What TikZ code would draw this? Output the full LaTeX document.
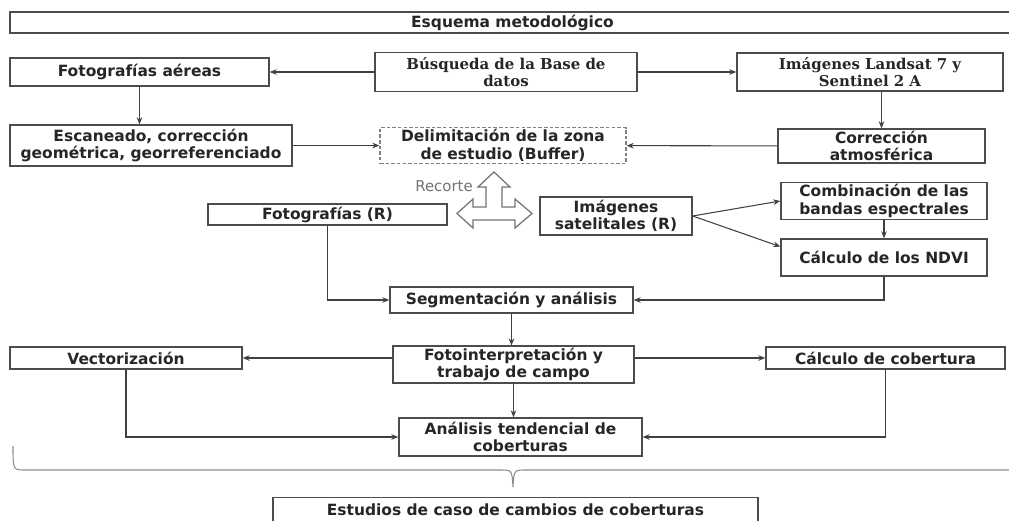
\documentclass[tikz,border=0pt]{standalone}
\usepackage{fontspec}
\setmainfont{DejaVu Sans}
\newfontfamily\serifbold{DejaVu Serif}
\usetikzlibrary{positioning, arrows.meta, calc}

\begin{document}
\begin{tikzpicture}[
    x=0.02cm, y=-0.02cm,
    >={Stealth[length=4pt, width=3.2pt]},
    box/.style={draw=black!70, line width=0.8pt, rectangle, inner sep=1pt, align=center, fill=white, text=black!85, font=\fontsize{8.8}{10}\selectfont\bfseries},
    serifbox/.style={box, font=\fontsize{8.5}{10}\selectfont\serifbold\bfseries},
    dashbox/.style={box, draw=black!50, dash pattern=on 2pt off 1.2pt},
    conn/.style={->, black!75, line width=0.6pt},
    label_font/.style={font=\fontsize{8.5}{10}\selectfont, text=black!55}
]
\useasboundingbox (0,0) rectangle (1009,521);

% 1. Encabezado y fuentes de datos
\node[box, minimum width=20.1cm, minimum height=0.42cm] (banner) at (512.5,22.5) {Esquema metodológico};
\node[box, minimum width=5.18cm, minimum height=0.56cm] (fotoaer) at (139.5,72) {Fotografías aéreas};
\node[serifbox, minimum width=5.24cm, minimum height=0.78cm] (busq) at (506,72) {Búsqueda de la Base de\\datos};
\node[serifbox, minimum width=5.32cm, minimum height=0.76cm] (landsat) at (870,72) {Imágenes Landsat 7 y\\Sentinel 2 A};

% 2. Preprocesamiento
\node[box, minimum width=5.64cm, minimum height=0.82cm] (escan) at (151,145.5) {Escaneado, corrección\\geométrica, georreferenciado};
\node[dashbox, minimum width=4.92cm, minimum height=0.70cm] (delim) at (503,145.5) {Delimitación de la zona\\de estudio (Buffer)};
\node[box, minimum width=4.14cm, minimum height=0.68cm] (atmos) at (881.5,146) {Corrección\\atmosférica};

% 3. Recorte
\node[box, minimum width=4.78cm, minimum height=0.42cm] (fotor) at (327.5,214.5) {Fotografías (R)};
\node[box, minimum width=3.04cm, minimum height=0.76cm] (satel) at (616,216) {Imágenes\\satelitales (R)};
\node[box, minimum width=4.12cm, minimum height=0.68cm] (combin) at (884,201) {Combinación de las\\bandas espectrales};
\node[box, minimum width=4.12cm, minimum height=0.74cm] (ndvi) at (884,257.5) {Cálculo de los NDVI};
\node[label_font] (recorte) at (444,186) {Recorte};
\draw[black!55, line width=0.7pt, fill=white, line join=miter]
    (494,172) -- (510,187) -- (502,187) -- (502,207) -- (515,207) -- (515,199) -- (532,213.5)
    -- (515,228) -- (515,220) -- (473,220) -- (473,228) -- (457,213.5) -- (473,199)
    -- (473,207) -- (486,207) -- (486,187) -- (478,187) -- cycle;

% 4. Análisis
\node[box, minimum width=4.86cm, minimum height=0.52cm] (segm) at (511.5,300) {Segmentación y análisis};
\node[box, minimum width=4.64cm, minimum height=0.44cm] (vector) at (126,358) {Vectorización};
\node[box, minimum width=4.82cm, minimum height=0.70cm] (fotoint) at (513.5,364.5) {Fotointerpretación y\\trabajo de campo};
\node[box, minimum width=4.78cm, minimum height=0.44cm] (calccob) at (885.5,358) {Cálculo de cobertura};
\node[box, minimum width=4.86cm, minimum height=0.76cm] (analisis) at (520.5,437) {Análisis tendencial de\\coberturas};
\node[box, minimum width=9.70cm, minimum height=0.48cm] (estudios) at (515.5,509.5) {Estudios de caso de cambios de coberturas};

% 5. Conexiones
\draw[conn] (busq) -- (fotoaer);
\draw[conn] (busq) -- (landsat);
\draw[conn] (fotoaer) -- (fotoaer |- escan.north);
\draw[conn] (landsat.south -| atmos) -- (atmos);
\draw[conn] (escan) -- (delim);
\draw[conn] (atmos) -- (delim);
\draw[conn] (satel.east) -- (combin.west);
\draw[conn] (satel.east) -- (ndvi.174);
\draw[conn] (combin) -- (ndvi);
\draw[conn] (fotor) |- (segm);
\draw[conn] (ndvi) |- (segm);
\draw[conn] (segm) -- (segm |- fotoint.north);
\draw[conn] (fotoint.west |- vector) -- (vector);
\draw[conn] (fotoint.east |- calccob) -- (calccob);
\draw[conn] (fotoint) -- (fotoint |- analisis.north);
\draw[conn] (vector) |- (analisis);
\draw[conn] (calccob) |- (analisis);

% 6. Llave
\draw[black!45, line width=0.6pt] (13,446) .. controls (13,470) .. (25,470) -- (500,470)
    .. controls (512,470) .. (513,487) .. controls (514,470) .. (526,470) -- (1015,470);

\end{tikzpicture}
\end{document}
